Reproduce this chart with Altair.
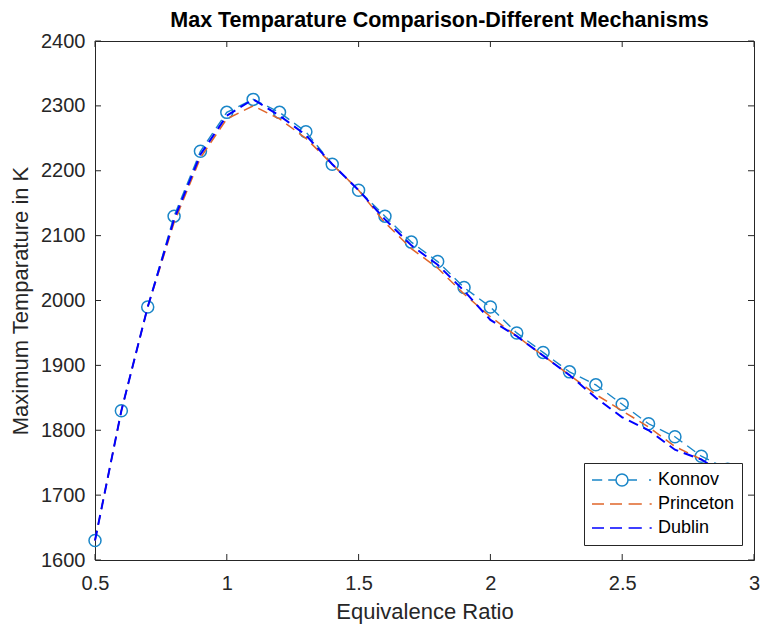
import altair as alt
import pandas as pd

phi = [0.5, 0.6, 0.7, 0.8, 0.9, 1.0, 1.1, 1.2, 1.3, 1.4, 1.5, 1.6, 1.7,
       1.8, 1.9, 2.0, 2.1, 2.2, 2.3, 2.4, 2.5, 2.6, 2.7, 2.8, 2.9]
konnov = [1630, 1830, 1990, 2130, 2230, 2290, 2310, 2290, 2260, 2210, 2170, 2130, 2090,
          2060, 2020, 1990, 1950, 1920, 1890, 1870, 1840, 1810, 1790, 1760, 1740]
princeton = [1630, 1830, 1990, 2120, 2220, 2280, 2300, 2280, 2250, 2210, 2170, 2120, 2080,
             2050, 2010, 1975, 1945, 1915, 1885, 1855, 1830, 1805, 1775, 1755, 1730]
dublin = [1630, 1830, 1990, 2125, 2225, 2285, 2310, 2285, 2255, 2210, 2170, 2125, 2085,
          2055, 2015, 1970, 1945, 1915, 1885, 1850, 1820, 1800, 1770, 1755, 1730]

series_names = ["Konnov", "Princeton", "Dublin"]
series_colors = ["#1A86C8", "#E0652A", "#0000FF"]
x_ticks = [0.5, 1, 1.5, 2, 2.5, 3]
y_ticks = [1600, 1700, 1800, 1900, 2000, 2100, 2200, 2300, 2400]

rows = []
for name, vals in zip(series_names, [konnov, princeton, dublin]):
    for p, t in zip(phi, vals):
        rows.append({"series": name, "phi": p, "T": t})
df = pd.DataFrame(rows)
xt_df = pd.DataFrame({"v": x_ticks})
yt_df = pd.DataFrame({"v": y_ticks})

W, H = 659, 519
TL = 6  # inward tick length
FONT = "Liberation Sans"
TXT = "#262626"

xscale = alt.Scale(domain=[0.5, 3])
yscale = alt.Scale(domain=[1600, 2400])

x_main = alt.Axis(values=x_ticks, labelExpr="'' + datum.value", ticks=False, tickSize=0,
                  domain=False, grid=False, labelFlush=False, labelFontSize=20, labelFont=FONT,
                  labelColor=TXT, labelPadding=13, title="Equivalence Ratio", titleFontSize=22,
                  titleFont=FONT, titleFontWeight="normal", titleColor=TXT, titlePadding=8)
y_main = alt.Axis(values=y_ticks, labelExpr="'' + datum.value", ticks=False, tickSize=0,
                  domain=False, grid=False, labelFlush=False, labelFontSize=20, labelFont=FONT,
                  labelColor=TXT, labelPadding=10, title="Maximum Temparature in K",
                  titleFontSize=22, titleFont=FONT, titleFontWeight="normal", titleColor=TXT,
                  titlePadding=8)

l_konnov = alt.Chart(df).transform_filter(alt.datum.series == "Konnov").mark_line(
    color=series_colors[0], strokeWidth=1.4, strokeDash=[10, 6]
).encode(
    x=alt.X("phi:Q", scale=xscale, axis=x_main),
    y=alt.Y("T:Q", scale=yscale, axis=y_main),
)

p_konnov = alt.Chart(df).transform_filter(alt.datum.series == "Konnov").mark_point(
    shape="circle", filled=False, color=series_colors[0], size=144, strokeWidth=1.5, opacity=1
).encode(
    x=alt.X("phi:Q", scale=xscale),
    y=alt.Y("T:Q", scale=yscale),
)

l_princeton = alt.Chart(df).transform_filter(alt.datum.series == "Princeton").mark_line(
    color=series_colors[1], strokeWidth=1.5, strokeDash=[10, 6]
).encode(
    x=alt.X("phi:Q", scale=xscale),
    y=alt.Y("T:Q", scale=yscale),
)

l_dublin = alt.Chart(df).transform_filter(alt.datum.series == "Dublin").mark_line(
    color=series_colors[2], strokeWidth=2, strokeDash=[10, 6]
).encode(
    x=alt.X("phi:Q", scale=xscale),
    y=alt.Y("T:Q", scale=yscale),
)

# inward (MATLAB-style) ticks on all four sides
tick_style = dict(color=TXT, strokeWidth=1)
t_bottom = alt.Chart(xt_df).mark_rule(**tick_style).encode(
    x=alt.X("v:Q", scale=xscale), y=alt.value(H), y2=alt.value(H - TL))
t_top = alt.Chart(xt_df).mark_rule(**tick_style).encode(
    x=alt.X("v:Q", scale=xscale), y=alt.value(0), y2=alt.value(TL))
t_left = alt.Chart(yt_df).mark_rule(**tick_style).encode(
    y=alt.Y("v:Q", scale=yscale), x=alt.value(0), x2=alt.value(TL))
t_right = alt.Chart(yt_df).mark_rule(**tick_style).encode(
    y=alt.Y("v:Q", scale=yscale), x=alt.value(W), x2=alt.value(W - TL))

circ = "M0.2,0A0.2,0.2 0 1,1 -0.2,0A0.2,0.2 0 1,1 0.2,0"
sym_konnov = "M-1,0H-0.66M-0.46,0H-0.2M0.2,0H0.5M0.9,0H0.97" + circ
sym_dash = "M-1,0H-0.6M-0.4,0H0M0.22,0H0.66M0.92,0H0.99"

leg = dict(title=None, orient="none", legendX=489, legendY=422,
           fillColor="white", strokeColor=TXT, padding=7,
           symbolSize=3600, symbolStrokeWidth=1.5, symbolFillColor="transparent",
           clipHeight=20, rowPadding=4, labelOffset=5,
           labelFont=FONT, labelFontSize=18, labelColor="#000000", symbolOpacity=1)
legend_layer = alt.Chart(df).transform_filter("false").mark_point(
    filled=False, strokeWidth=1.5, opacity=1
).encode(
    x=alt.X("phi:Q", scale=xscale),
    y=alt.Y("T:Q", scale=yscale),
    color=alt.Color("series:N", scale=alt.Scale(domain=series_names, range=series_colors),
                    legend=alt.Legend(**leg)),
    shape=alt.Shape("series:N", scale=alt.Scale(domain=series_names,
                                                range=[sym_konnov, sym_dash, sym_dash]),
                    legend=alt.Legend(**leg)),
)

chart = alt.layer(
    l_konnov, p_konnov, l_princeton, l_dublin, t_bottom, t_top, t_left, t_right, legend_layer
).properties(
    width=W, height=H,
    background="white",
    title=alt.TitleParams("Max Temparature Comparison-Different Mechanisms", fontSize=21.5,
                          font=FONT, fontWeight="bold", color="#000000", anchor="middle",
                          frame="group", offset=0, dx=15),
    autosize=alt.AutoSizeParams(type="none"),
    padding={"left": 95, "top": 41, "right": 10, "bottom": 64},
).configure_view(
    stroke=TXT, strokeWidth=1
).configure_legend(
    strokeWidth=1
)

chart.save("out.html", embed_options={"renderer": "svg", "actions": False})
